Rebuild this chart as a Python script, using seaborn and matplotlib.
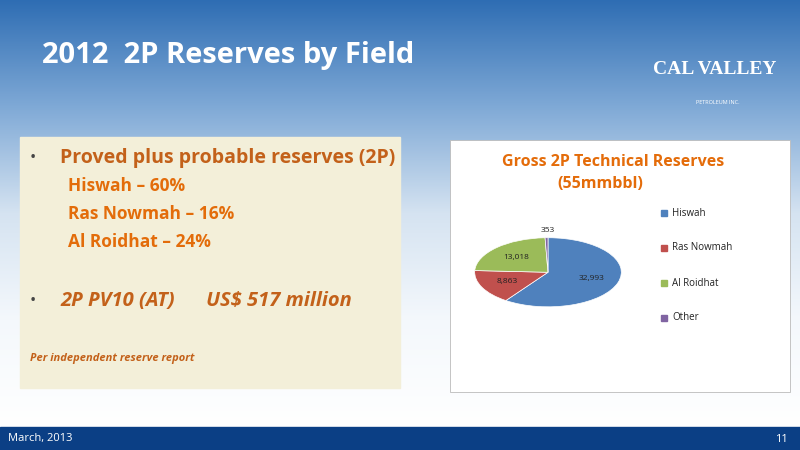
import numpy as np
import matplotlib
matplotlib.use("Agg")
import matplotlib.pyplot as plt
import seaborn as sns
from matplotlib.patches import Rectangle

sns.set_theme(style="white")
plt.rcParams['font.family'] = ['Open Sans', 'DejaVu Sans']

fields = ["Hiswah", "Ras Nowmah", "Al Roidhat", "Other"]
reserves = [32993, 8863, 13018, 353]
colors = ["#4F81BD", "#C0504D", "#9BBB59", "#8064A2"]

fig = plt.figure(figsize=(8, 4.5), dpi=100)
bg = fig.add_axes([0, 0, 1, 1])
bg.axis("off")
grad = np.linspace(0, 1, 256)[:, None]
cmap = matplotlib.colors.LinearSegmentedColormap.from_list("bg", ["#2E6DB3", "#7FA9D6", "#D5E3F1", "#F4F8FC", "#FFFFFF"])
bg.imshow(grad, aspect="auto", cmap=cmap, extent=[0, 1, 0.05, 1], origin="upper")
bg.set_xlim(0, 1); bg.set_ylim(0, 1)
bg.add_patch(Rectangle((0, 0), 1, 0.052, color="#0B3F85"))
bg.add_patch(Rectangle((20/800, 1-388/450), 380/800, 251/450, color="#F3EFD9"))
bg.add_patch(Rectangle((450/800, 1-392/450), 340/800, 252/450, facecolor="white", edgecolor="#BBBBBB", lw=0.6))

fig.text(42/800, 1-55/450, "2012  2P Reserves by Field", color="white", fontsize=21, fontweight="bold", va="center")
fig.text(715/800, 1-70/450, "CAL VALLEY", color="white", fontsize=14, fontweight="bold", ha="center", va="center", family="Liberation Serif")
fig.text(718/800, 1-102/450, "PETROLEUM INC.", color="white", fontsize=4, ha="center", va="center")
fig.text(8/800, 1-439/450, "March, 2013", color="white", fontsize=8, va="center")
fig.text(788/800, 1-439/450, "11", color="white", fontsize=8, va="center", ha="right")

brown = "#C3611A"; orange = "#E36C0A"
fig.text(30/800, 1-158/450, "•", color="#444444", fontsize=12, va="center")
fig.text(60/800, 1-158/450, "Proved plus probable reserves (2P)", color=brown, fontsize=14, fontweight="bold", va="center")
for i, t in enumerate(["Hiswah – 60%", "Ras Nowmah – 16%", "Al Roidhat – 24%"]):
    fig.text(68/800, 1-(186+28*i)/450, t, color=orange, fontsize=12.5, fontweight="bold", va="center")
fig.text(30/800, 1-301/450, "•", color="#444444", fontsize=12, va="center")
fig.text(60/800, 1-301/450, "2P PV10 (AT)      US$ 517 million", color=brown, fontsize=14.5, fontweight="bold", style="italic", va="center")
fig.text(30/800, 1-359/450, "Per independent reserve report", color=brown, fontsize=8, fontweight="bold", style="italic", va="center")

fig.text(613/800, 1-162/450, "Gross 2P Technical Reserves", color="#E46C0A", fontsize=11.5, fontweight="bold", ha="center", va="center")
fig.text(600/800, 1-184/450, "(55mmbbl)", color="#E46C0A", fontsize=11.5, fontweight="bold", ha="center", va="center")

ax = fig.add_axes([471/800, 1-312/450, 154/800, 76/450])
wedges, texts, autos = ax.pie(reserves, colors=colors, startangle=90, counterclock=False,
                              autopct=lambda p: f"{p*sum(reserves)/100:,.0f}", pctdistance=0.62,
                              wedgeprops=dict(edgecolor="white", linewidth=0.5),
                              textprops=dict(fontsize=6, color="#222222"))
ax.set_aspect("auto")
autos[3].set_position((0.0, 1.22))
ax.set_xlim(-1.05, 1.05); ax.set_ylim(-1.15, 1.05)

for i, (f, c) in enumerate(zip(fields, colors)):
    y = 1-(213+35*i)/450
    fig.patches.append(Rectangle((661/800, y-3/450), 6/800, 6/450, color=c, transform=fig.transFigure, figure=fig))
    fig.text(672/800, y, f, fontsize=7, color="#222222", va="center")

fig.savefig("out.png", dpi=100)
